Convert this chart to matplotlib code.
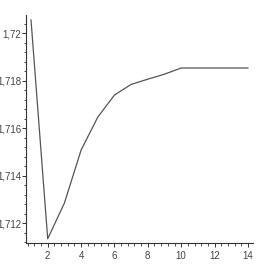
import matplotlib
matplotlib.use("Agg")
import matplotlib.pyplot as plt
from matplotlib.ticker import MultipleLocator, FuncFormatter

x = [1, 2, 3, 4, 5, 6, 7, 8, 9, 10, 11, 12, 13, 14]
y = [1.72055, 1.71134, 1.71284, 1.71507, 1.71646, 1.71739, 1.71784, 1.71806,
     1.71827, 1.71853, 1.71853, 1.71853, 1.71853, 1.71853]

plt.rcParams['font.family'] = ['Liberation Sans Narrow', 'Liberation Sans', 'DejaVu Sans']

fig = plt.figure(figsize=(2.56, 2.64), dpi=100)
ax = fig.add_axes([0.1016, 0.0795, 0.8864, 0.8635])
ax.plot(x, y, color="#555555", lw=0.9)

ax.set_xlim(0.7, 14.3)
ax.set_ylim(1.71116, 1.72076)

ax.xaxis.set_major_locator(MultipleLocator(2))
ax.xaxis.set_minor_locator(MultipleLocator(0.4))
ax.yaxis.set_major_locator(MultipleLocator(0.002))
ax.yaxis.set_minor_locator(MultipleLocator(0.0004))

def comma(v, pos):
    s = ("%.3f" % v).rstrip("0").rstrip(".")
    return s.replace(".", ",")

ax.yaxis.set_major_formatter(FuncFormatter(comma))
ax.xaxis.set_major_formatter(FuncFormatter(lambda v, p: "%d" % round(v)))

for s in ["top", "right"]:
    ax.spines[s].set_visible(False)
for s in ["left", "bottom"]:
    ax.spines[s].set_color("#333333")
    ax.spines[s].set_linewidth(0.8)

ax.tick_params(which="major", length=2.6, width=0.7, color="#333333", labelsize=7,
               labelcolor="#444444")
ax.tick_params(axis="x", which="major", pad=3.5)
ax.tick_params(axis="y", which="major", pad=0.8)
ax.tick_params(which="minor", length=1.8, width=0.6, color="#333333")

fig.savefig("out.png", dpi=100)
